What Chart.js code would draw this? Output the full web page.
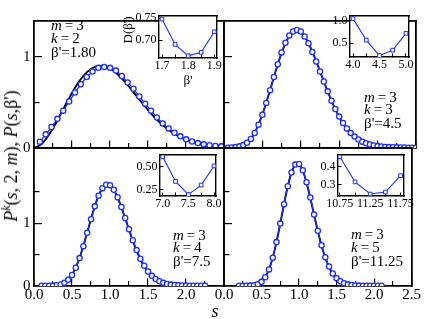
<!DOCTYPE html>
<html><head><meta charset="utf-8">
<script src="https://cdn.jsdelivr.net/npm/chart.js@4/dist/chart.umd.min.js"></script>
<style>
html,body{margin:0;padding:0;background:#fff;}
#wrap{position:relative;width:429px;height:319px;overflow:hidden;background:#fff;}
#wrap canvas{position:absolute;left:0;top:0;}
.ann{position:absolute;font-family:'Liberation Serif','Times New Roman',serif;color:#000;white-space:nowrap;line-height:15px;font-size:15px;}
.sm{font-size:13px;line-height:13px;}
</style></head><body>
<div id="wrap">
</div>
<script>
// ---------------- DATA ----------------
// Panel (m=3, k=2, beta'=1.80)
const S_K2 = [0.077,0.154,0.231,0.308,0.385,0.462,0.539,0.616,0.693,0.770,0.847,0.924,1.001,1.078,1.155,1.232,1.309,1.386,1.463,1.540,1.617,1.694,1.771,1.848,1.925,2.002,2.079,2.156,2.233,2.310,2.387,2.464];
const P_K2 = [0.07,0.15,0.23,0.32,0.41,0.51,0.61,0.70,0.78,0.84,0.88,0.89,0.88,0.85,0.79,0.72,0.65,0.565,0.487,0.41,0.335,0.27,0.215,0.167,0.128,0.095,0.072,0.054,0.04,0.03,0.023,0.018];
const S_TH_K2 = [0,0.1,0.2,0.3,0.4,0.5,0.6,0.7,0.8,0.9,1.0,1.1,1.2,1.3,1.4,1.5,1.6,1.7,1.8,1.9,2.0,2.1,2.2,2.3,2.4,2.5];
const P_TH_K2 = [0,0.0443,0.1488,0.2911,0.4499,0.6049,0.7380,0.8360,0.8914,0.9024,0.8726,0.8093,0.7225,0.6220,0.5174,0.4167,0.3252,0.2461,0.1808,0.1291,0.0895,0.0604,0.0396,0.0253,0.0157,0.0095];

// common s grid (step 0.05) for the theory curves of k=3,4,5
const S_TH = [0,0.05,0.1,0.15,0.2,0.25,0.3,0.35,0.4,0.45,0.5,0.55,0.6,0.65,0.7,0.75,0.8,0.85,0.9,0.95,1.0,1.05,1.1,1.15,1.2,1.25,1.3,1.35,1.4,1.45,1.5,1.55,1.6,1.65,1.7,1.75,1.8,1.85,1.9,1.95,2.0,2.05,2.1,2.15,2.2,2.25,2.3,2.35,2.4,2.45,2.5];
// Panel (m=3, k=3, beta'=4.5)
const P_TH_K3 = [0,0,0.0005,0.0029,0.0101,0.0261,0.0554,0.1022,0.1696,0.2591,0.3693,0.4971,0.6365,0.7799,0.9188,1.0445,1.1495,1.2274,1.2740,1.2881,1.2700,1.2227,1.1506,1.0594,0.9550,0.8436,0.7306,0.6206,0.5175,0.4237,0.3407,0.2692,0.2090,0.1596,0.1198,0.0886,0.0643,0.0460,0.0324,0.0225,0.0153,0.0103,0.0068,0.0044,0.0028,0.0018,0.0011,0.0007,0.0004,0.0002,0.0001];
const S_K3 = [0.05,0.1,0.15,0.2,0.25,0.3,0.35,0.4,0.45,0.5,0.55,0.6,0.65,0.7,0.75,0.8,0.85,0.9,0.95,1.0,1.05,1.1,1.15,1.2,1.25,1.3,1.35,1.4,1.45,1.5,1.55,1.6,1.65,1.7,1.75,1.8,1.85,1.9,1.95,2.0,2.05,2.1,2.15,2.2,2.25,2.3,2.35,2.4,2.45,2.5];
const P_K3 = [0.004,0.006,0.01,0.018,0.032,0.058,0.10,0.165,0.255,0.365,0.495,0.635,0.78,0.92,1.05,1.155,1.235,1.28,1.295,1.28,1.225,1.15,1.055,0.95,0.84,0.73,0.622,0.52,0.428,0.345,0.275,0.215,0.165,0.125,0.094,0.07,0.052,0.038,0.028,0.021,0.016,0.012,0.01,0.008,0.007,0.006,0.005,0.004,0.004,0.003];
// Panel (m=3, k=4, beta'=7.5)
const P_TH_K4 = [0,0,0,0.0001,0.0004,0.0021,0.0074,0.0205,0.0481,0.0982,0.1788,0.2961,0.4516,0.6407,0.8523,1.0693,1.2718,1.4397,1.5564,1.6116,1.6018,1.5314,1.4109,1.2544,1.0779,0.8960,0.7213,0.5628,0.4261,0.3132,0.2236,0.1552,0.1047,0.0688,0.0440,0.0274,0.0166,0.0098,0.0057,0.0032,0.0017,0.0009,0.0005,0.0002,0.0001,0,0,0,0,0,0];
const S_K4 = [0.1,0.15,0.2,0.25,0.3,0.35,0.4,0.45,0.5,0.55,0.6,0.65,0.7,0.75,0.8,0.85,0.9,0.95,1.0,1.05,1.1,1.15,1.2,1.25,1.3,1.35,1.4,1.45,1.5,1.55,1.6,1.65,1.7,1.75,1.8,1.85,1.9,1.95,2.0,2.05,2.1,2.15,2.2,2.25];
const P_K4 = [0.003,0.003,0.004,0.006,0.012,0.025,0.05,0.098,0.175,0.29,0.445,0.635,0.85,1.065,1.27,1.44,1.56,1.615,1.605,1.535,1.415,1.26,1.085,0.905,0.73,0.572,0.435,0.322,0.232,0.162,0.112,0.075,0.05,0.033,0.022,0.015,0.011,0.008,0.006,0.005,0.004,0.004,0.003,0.003];
// Panel (m=3, k=5, beta'=11.25)
const P_TH_K5 = [0,0,0,0,0,0,0.0005,0.0025,0.0090,0.0265,0.0655,0.1405,0.2667,0.4545,0.7036,0.9982,1.3081,1.5927,1.8112,1.9317,1.9389,1.8374,1.6478,1.4023,1.1343,0.8736,0.6418,0.4502,0.3020,0.1939,0.1193,0.0703,0.0398,0.0217,0.0113,0.0057,0.0027,0.0012,0.0005,0.0002,0.0001,0,0,0,0,0,0,0,0,0,0];
const S_K5 = [0.2,0.25,0.3,0.35,0.4,0.45,0.5,0.55,0.6,0.65,0.7,0.75,0.8,0.85,0.9,0.95,1.0,1.05,1.1,1.15,1.2,1.25,1.3,1.35,1.4,1.45,1.5,1.55,1.6,1.65,1.7,1.75,1.8,1.85,1.9,1.95,2.0,2.05,2.1];
const P_K5 = [0.003,0.003,0.004,0.006,0.012,0.028,0.066,0.14,0.265,0.452,0.70,0.995,1.305,1.59,1.81,1.935,1.945,1.845,1.655,1.41,1.14,0.88,0.65,0.458,0.31,0.2,0.125,0.076,0.045,0.026,0.015,0.009,0.006,0.005,0.004,0.003,0.003,0.003,0.003];

// Insets: D(beta') versus beta'
const B_K2 = [1.7,1.75,1.8,1.85,1.9];       const D_K2 = [0.748,0.690,0.664,0.672,0.719];
const B_K3 = [4.0,4.25,4.5,4.75,5.0];       const D_K3 = [1.04,0.57,0.23,0.35,0.72];
const B_K4 = [7.0,7.25,7.5,7.75,8.0];       const D_K4 = [0.61,0.34,0.195,0.30,0.51];
const B_K5 = [10.75,11.0,11.25,11.5,11.75]; const D_K5 = [0.456,0.315,0.247,0.258,0.35];

// tick labels
const S_TICKS = [0,0.5,1,1.5,2,2.5];
const S_LABELS_LEFT = ['0.0','0.5','1.0','1.5','2.0',''];
const S_LABELS_RIGHT = ['0.0','0.5','1.0','1.5','2.0','2.5'];
const S_MINOR = [0.25,0.75,1.25,1.75,2.25];

// ---------------- DRAWING ----------------
const W = 429, H = 319;
const SERIF = "'Liberation Serif','Times New Roman',serif";
const BLUE = '#1a2eff';
const wrap = document.getElementById('wrap');

function newCanvas(){
  const c = document.createElement('canvas');
  c.width = W; c.height = H; c.style.width = W+'px'; c.style.height = H+'px';
  wrap.appendChild(c); return c;
}
const bgPlugin = {id:'bgfill', beforeDraw(chart, args, opts){
  if(!opts || !opts.color) return;
  const a = chart.chartArea, ctx = chart.ctx;
  ctx.save(); ctx.fillStyle = opts.color; ctx.fillRect(a.left, a.top, a.right-a.left, a.bottom-a.top); ctx.restore();
}};

// axis box sizes are fixed so the plot rectangle lands exactly where wanted
function axis(o){
  const horiz = (o.pos==='top'||o.pos==='bottom');
  const vals = o.vals || [o.min];
  const size = o.size || 0;
  return {
    type:'linear', display:true, position:o.pos, min:o.min, max:o.max, weight:o.weight||0,
    afterFit(s){ if(horiz) s.height = size; else s.width = size; },
    afterBuildTicks(s){ s.ticks = vals.map(v=>({value:v})); },
    grid:{display:!!o.vals, drawOnChartArea:false, drawTicks:true, tickLength:-(o.tl||0), color:'#000', lineWidth:o.tw||1},
    border:{display:!!o.bw, color:'#000', width:o.bw||1},
    ticks:{display:true, autoSkip:false, maxRotation:0, minRotation:0, padding:(o.gap||0)+(o.tl||0), color:'#000',
      font:{family:SERIF, size:o.fs||12}, callback:(v,i)=> (o.labels && o.labels[i]!==undefined) ? o.labels[i] : ''}
  };
}
function pts(xs, ys){ return xs.map((x,i)=>({x:x, y:ys[i]})); }

const YW = 34, XH = 30;   // label room of main panels
function mainPanel(p){
  const c = newCanvas();
  const yw = p.yl.length ? YW : 0;
  const xh = p.xl.length ? XH : 0;
  new Chart(c, {
    type:'line',
    data:{datasets:[
      {data:pts(p.bs,p.bv), xAxisID:'x', yAxisID:'y', order:0, borderColor:BLUE, borderWidth:1.3,
       pointRadius:2.6, pointBorderWidth:1.3, pointBorderColor:BLUE, pointBackgroundColor:'#ffffff', pointStyle:'circle', tension:0},
      {data:pts(p.ts,p.tv), xAxisID:'x', yAxisID:'y', order:1, borderColor:'#000', borderWidth:1.9,
       pointRadius:0, cubicInterpolationMode:'monotone'}
    ]},
    options:{
      animation:false, responsive:false, devicePixelRatio:1, events:[],
      layout:{padding:{left:p.l-yw, top:p.t, right:W-p.r, bottom:H-p.b-xh}},
      plugins:{legend:{display:false}, tooltip:{enabled:false}},
      scales:{
        x: axis({pos:'bottom', min:0, max:2.5, vals:S_TICKS, labels:p.xl, tl:7.5, gap:0.5, fs:15, bw:1.8, tw:1.2, size:xh, weight:1}),
        xm: axis({pos:'bottom', min:0, max:2.5, vals:S_MINOR, tl:5, fs:15, tw:1.2, weight:0}),
        xt: axis({pos:'top', min:0, max:2.5, bw:1.8}),
        y: axis({pos:'left', min:0, max:p.ymax, vals:[0,1], labels:p.yl, tl:8, gap:3.5, fs:15, bw:1.8, tw:1.2, size:yw, weight:1}),
        ym: axis({pos:'left', min:0, max:p.ymax, vals:p.ymin, tl:5.5, fs:15, tw:1.2, weight:0}),
        yr: axis({pos:'right', min:0, max:p.ymax, bw:1.8})
      }
    }
  });
}

const IYW = 28, IXH = 16;
function inset(p){
  const c = newCanvas();
  new Chart(c, {
    type:'line',
    plugins:[bgPlugin],
    data:{datasets:[
      {data:pts(p.bx,p.by), xAxisID:'x', yAxisID:'y', borderColor:BLUE, borderWidth:1.1,
       pointRadius:2.6, pointBorderWidth:1, pointBorderColor:BLUE, pointBackgroundColor:'#ffffff', pointStyle:'rect', tension:0}
    ]},
    options:{
      animation:false, responsive:false, devicePixelRatio:1, events:[],
      layout:{padding:{left:p.l-IYW, top:p.t, right:W-p.r, bottom:H-p.b-IXH}},
      plugins:{legend:{display:false}, tooltip:{enabled:false}, bgfill:{color:'#ffffff'}},
      scales:{
        x: axis({pos:'bottom', min:p.xmin, max:p.xmax, vals:p.xv, labels:p.xlab, tl:3.5, gap:0.5, fs:12, bw:1.4, size:IXH}),
        xt: axis({pos:'top', min:p.xmin, max:p.xmax, bw:1.4}),
        y: axis({pos:'left', min:p.ymin, max:p.ymax, vals:p.yv, labels:p.ylab, tl:3.5, gap:2.5, fs:12, bw:1.4, size:IYW}),
        yr: axis({pos:'right', min:p.ymin, max:p.ymax, bw:1.4})
      }
    }
  });
}

// main panels
mainPanel({l:34, r:224, t:10, b:148, ymax:1.4, ymin:[0.5], yl:['0','1'], xl:[], bs:S_K2, bv:P_K2, ts:S_TH_K2, tv:P_TH_K2});
mainPanel({l:224, r:416, t:10, b:148, ymax:1.4, ymin:[0.5], yl:[], xl:[], bs:S_K3, bv:P_K3, ts:S_TH, tv:P_TH_K3});
mainPanel({l:34, r:224, t:148, b:286, ymax:2.2, ymin:[0.5,1.5], yl:['0','1'], xl:S_LABELS_LEFT, bs:S_K4, bv:P_K4, ts:S_TH, tv:P_TH_K4});
mainPanel({l:224, r:416, t:148, b:286, ymax:2.2, ymin:[0.5,1.5], yl:[], xl:S_LABELS_RIGHT, bs:S_K5, bv:P_K5, ts:S_TH, tv:P_TH_K5});

// insets
inset({l:159, r:217, t:16, b:58, xmin:1.6885, xmax:1.9105, ymin:0.659, ymax:0.755,
  xv:[1.7,1.75,1.8,1.85,1.9], xlab:['1.7','','1.8','','1.9'], yv:[0.70,0.75], ylab:['0.70','0.75'], bx:B_K2, by:D_K2});
inset({l:350, r:409, t:16, b:57, xmin:3.943, xmax:5.057, ymin:0.20, ymax:1.10,
  xv:[4.0,4.25,4.5,4.75,5.0], xlab:['4.0','','4.5','','5.0'], yv:[0.5,1.0], ylab:['0.5','1.0'], bx:B_K3, by:D_K3});
inset({l:160, r:216, t:155, b:196, xmin:6.947, xmax:8.039, ymin:0.18, ymax:0.63,
  xv:[7.0,7.25,7.5,7.75,8.0], xlab:['7.0','','7.5','','8.0'], yv:[0.25,0.50], ylab:['0.25','0.50'], bx:B_K4, by:D_K4});
inset({l:338, r:404, t:155, b:196, xmin:10.72, xmax:11.806, ymin:0.236, ymax:0.466,
  xv:[10.75,11.0,11.25,11.5,11.75], xlab:['10.75','','11.25','','11.75'], yv:[0.3,0.4], ylab:['0.3','0.4'], bx:B_K5, by:D_K5});

// text annotations
function ann(html, x, y, cls, extra){
  const d = document.createElement('div');
  d.className = 'ann' + (cls ? ' '+cls : '');
  d.innerHTML = html;
  d.style.left = x+'px'; d.style.top = y+'px';
  if(extra) Object.assign(d.style, extra);
  wrap.appendChild(d);
}
const PANEL_TEXT = [
  {x:51, y:[25,38,52], k:'2', b:'1.80'},
  {x:364, y:[97,109,123], k:'3', b:'4.5'},
  {x:173, y:[235,247.5,261.5], k:'4', b:'7.5'},
  {x:351, y:[234,247,261], k:'5', b:'11.25'}
];
PANEL_TEXT.forEach(t=>{
  ann('<i>m</i>\u2009=\u20093', t.x, t.y[0]-7.5);
  ann('<i>k</i>\u2009=\u2009'+t.k, t.x, t.y[1]-7.5);
  ann('\u03b2\'=' + t.b, t.x, t.y[2]-7.5);
});
// axis titles
ann('<i>s</i>', 215, 311, '', {fontSize:18+'px', transform:'translate(-50%,-50%)'});
ann('<i>P</i><span style="font-size:12px;position:relative;top:-7px"><i>k</i></span>(<i>s</i>, 2, <i>m</i>), <i>P</i>(<i>s</i>,\u03b2\')',
  12, 156, '', {fontSize:'18px', lineHeight:'18px', transform:'translate(-50%,-50%) rotate(-90deg)'});
ann('D(\u03b2\')', 127, 30, 'sm', {transform:'translate(-50%,-50%) rotate(-90deg)'});
ann('\u03b2\'', 188, 79, 'sm', {transform:'translate(-50%,-50%)'});
</script>
</body></html>
